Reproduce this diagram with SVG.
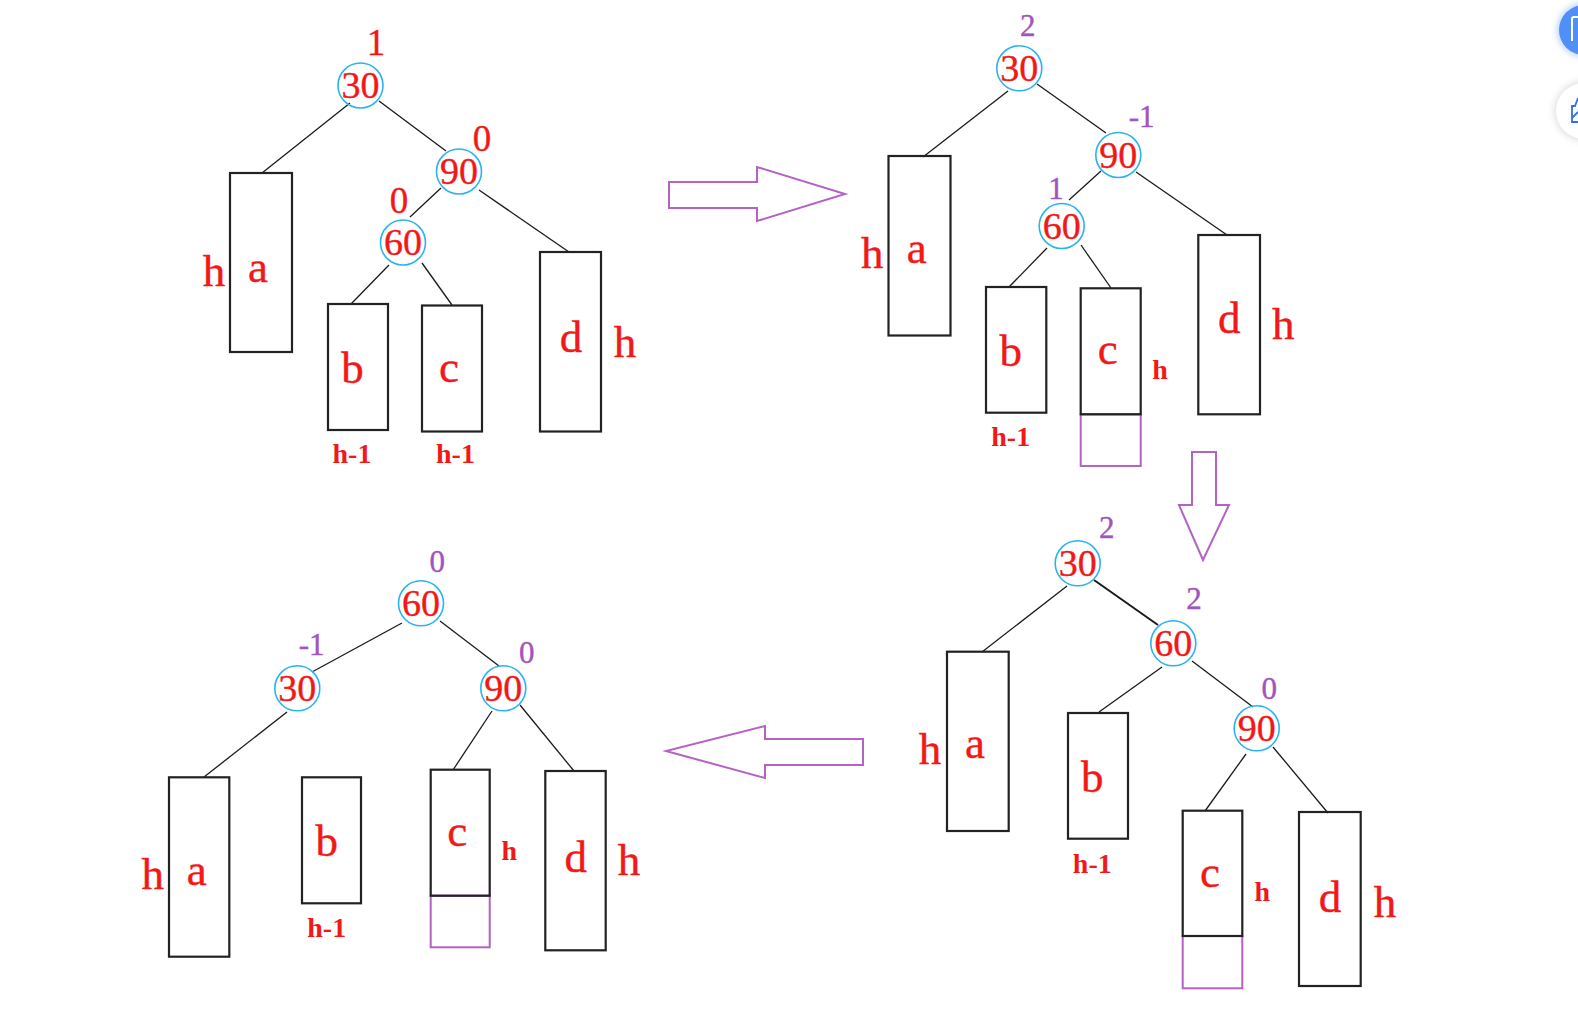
<svg xmlns="http://www.w3.org/2000/svg" width="1578" height="1025" viewBox="0 0 1578 1025">
<defs>
<style>
.bg{fill:#ffffff}
.nc{fill:none;stroke:#2ab4ee;stroke-width:1.6}
.box{fill:none;stroke:#222;stroke-width:2.2}
.pbox{fill:none;stroke:#b462c4;stroke-width:2}
.ln{stroke:#1a1a1a;stroke-width:1.3;fill:none}
.arr{fill:#ffffff;stroke:#b462c4;stroke-width:2;stroke-linejoin:miter}
.t{font-family:"Liberation Serif","Times New Roman",serif;fill:#f21818;text-anchor:middle;stroke:#f21818;stroke-width:0.4}
.num{font-size:38px}
.bf{font-size:37px}
.pb{font-size:31px;fill:#a154bd;stroke:#a154bd}
.lt{font-size:45px}
.sm{font-size:28px;font-weight:bold;stroke-width:0}
</style>
<filter id="glow" x="-50%" y="-50%" width="200%" height="200%">
<feGaussianBlur stdDeviation="3"/>
</filter>
</defs>
<rect class="bg" x="0" y="0" width="1578" height="1025"/>

<!-- connectors -->
<g id="connectors">
<!-- tree 1 -->
<line class="ln" x1="350" y1="103" x2="262" y2="173"/>
<line class="ln" x1="379" y1="101" x2="446" y2="151"/>
<line class="ln" x1="441" y1="188" x2="410" y2="217"/>
<line class="ln" x1="479" y1="190" x2="569" y2="252"/>
<line class="ln" x1="389" y1="265" x2="351" y2="304"/>
<line class="ln" x1="422" y1="263" x2="452" y2="305"/>
<!-- tree 2 -->
<line class="ln" x1="1008" y1="91" x2="923" y2="157"/>
<line class="ln" x1="1037" y1="84" x2="1106" y2="133"/>
<line class="ln" x1="1101" y1="171" x2="1069" y2="200"/>
<line class="ln" x1="1136" y1="172" x2="1227" y2="235"/>
<line class="ln" x1="1047" y1="248" x2="1009" y2="287"/>
<line class="ln" x1="1081" y1="245" x2="1111" y2="288"/>
<!-- tree 3 -->
<line class="ln" x1="1067" y1="586" x2="982" y2="652"/>
<line class="ln" x1="1094" y1="580" x2="1158" y2="625" style="stroke-width:2"/>
<line class="ln" x1="1162" y1="667" x2="1099" y2="712"/>
<line class="ln" x1="1192" y1="661" x2="1253" y2="707"/>
<line class="ln" x1="1246" y1="754" x2="1205" y2="811"/>
<line class="ln" x1="1273" y1="747" x2="1328" y2="813"/>
<!-- tree 4 -->
<line class="ln" x1="402" y1="623" x2="312" y2="672"/>
<line class="ln" x1="440" y1="621" x2="499" y2="666"/>
<line class="ln" x1="287" y1="712" x2="204" y2="777"/>
<line class="ln" x1="492" y1="711" x2="453" y2="770"/>
<line class="ln" x1="520" y1="705" x2="574" y2="771"/>
</g>

<!-- transformation arrows -->
<g id="arrows">
<polygon id="arrow-right" class="arr" points="669,182 757,182 757,167 845,194 757,221 757,208 669,208"/>
<polygon id="arrow-down" class="arr" points="1192,452 1216,452 1216,505 1229,505 1203,560 1179,505 1192,505"/>
<polygon id="arrow-left" class="arr" points="863,739 765,739 765,726 666,751 765,778 765,765 863,765"/>
</g>

<!-- ===== Tree 1 (top-left) ===== -->
<g id="t1-n30">
<circle class="nc" cx="360.5" cy="85.5" r="22.5"/>
<text class="t num" x="360.5" y="98">30</text>
<text class="t bf" x="376" y="55">1</text>
</g>
<g id="t1-n90">
<circle class="nc" cx="459" cy="171.5" r="22.5"/>
<text class="t num" x="459" y="184">90</text>
<text class="t bf" x="482" y="151">0</text>
</g>
<g id="t1-n60">
<circle class="nc" cx="403" cy="242.5" r="22.5"/>
<text class="t num" x="403" y="255">60</text>
<text class="t bf" x="399" y="213">0</text>
</g>
<g id="t1-a">
<rect class="box" x="230" y="173" width="62" height="179"/>
<text class="t lt" x="214" y="286">h</text>
<text class="t lt" x="258" y="282">a</text>
</g>
<g id="t1-b">
<rect class="box" x="328" y="304" width="60" height="126"/>
<text class="t lt" x="352.5" y="383">b</text>
<text class="t sm" x="352" y="463">h-1</text>
</g>
<g id="t1-c">
<rect class="box" x="422" y="305.5" width="60" height="126"/>
<text class="t lt" x="449" y="382">c</text>
<text class="t sm" x="455.5" y="463">h-1</text>
</g>
<g id="t1-d">
<rect class="box" x="540" y="252" width="61" height="179.5"/>
<text class="t lt" x="571" y="352">d</text>
<text class="t lt" x="625" y="357">h</text>
</g>

<!-- ===== Tree 2 (top-right) ===== -->
<g id="t2-n30">
<circle class="nc" cx="1019.3" cy="68.3" r="22.5"/>
<text class="t num" x="1019.3" y="80.8">30</text>
<text class="t pb" x="1027.7" y="36">2</text>
</g>
<g id="t2-n90">
<circle class="nc" cx="1118.3" cy="155" r="22.5"/>
<text class="t num" x="1118.3" y="167.5">90</text>
<text class="t pb" x="1141.7" y="127">-1</text>
</g>
<g id="t2-n60">
<circle class="nc" cx="1061.7" cy="226" r="22.5"/>
<text class="t num" x="1061.7" y="238.5">60</text>
<text class="t pb" x="1056" y="199">1</text>
</g>
<g id="t2-a">
<rect class="box" x="888.5" y="156" width="62" height="179.5"/>
<text class="t lt" x="872.3" y="268">h</text>
<text class="t lt" x="916.7" y="263.3">a</text>
</g>
<g id="t2-b">
<rect class="box" x="986" y="287" width="60.3" height="125.7"/>
<text class="t lt" x="1010.7" y="366">b</text>
<text class="t sm" x="1010.7" y="446">h-1</text>
</g>
<g id="t2-c">
<rect class="pbox" x="1080.7" y="414.3" width="60" height="51.7"/>
<rect class="box" x="1080.7" y="288.3" width="60" height="126"/>
<text class="t lt" x="1107.7" y="364.3">c</text>
<text class="t sm" x="1160" y="379">h</text>
</g>
<g id="t2-d">
<rect class="box" x="1198.3" y="235" width="61.7" height="179.3"/>
<text class="t lt" x="1229.3" y="333.3">d</text>
<text class="t lt" x="1283.3" y="339">h</text>
</g>

<!-- ===== Tree 3 (bottom-right) ===== -->
<g id="t3-n30">
<circle class="nc" cx="1077.7" cy="563.3" r="22.5"/>
<text class="t num" x="1077.7" y="575.8">30</text>
<text class="t pb" x="1106.7" y="538.3">2</text>
</g>
<g id="t3-n60">
<circle class="nc" cx="1173.3" cy="643.3" r="22.5"/>
<text class="t num" x="1173.3" y="655.8">60</text>
<text class="t pb" x="1194" y="609.3">2</text>
</g>
<g id="t3-n90">
<circle class="nc" cx="1256.7" cy="728.3" r="22.5"/>
<text class="t num" x="1256.7" y="740.8">90</text>
<text class="t pb" x="1269.3" y="699.3">0</text>
</g>
<g id="t3-a">
<rect class="box" x="947" y="651.7" width="61.7" height="179.3"/>
<text class="t lt" x="930" y="764">h</text>
<text class="t lt" x="975" y="758.3">a</text>
</g>
<g id="t3-b">
<rect class="box" x="1068" y="713" width="60" height="125.7"/>
<text class="t lt" x="1092.3" y="791.7">b</text>
<text class="t sm" x="1092.3" y="872.7">h-1</text>
</g>
<g id="t3-c">
<rect class="pbox" x="1182.7" y="936" width="59.6" height="52.3"/>
<rect class="box" x="1182.7" y="810.7" width="59.6" height="125.3"/>
<text class="t lt" x="1210" y="886.7">c</text>
<text class="t sm" x="1262.3" y="900.7">h</text>
</g>
<g id="t3-d">
<rect class="box" x="1299" y="812" width="61.7" height="174"/>
<text class="t lt" x="1330" y="911.7">d</text>
<text class="t lt" x="1385" y="916.7">h</text>
</g>

<!-- ===== Tree 4 (bottom-left) ===== -->
<g id="t4-n60">
<circle class="nc" cx="421" cy="603.3" r="22.5"/>
<text class="t num" x="421" y="615.8">60</text>
<text class="t pb" x="437.3" y="571.7">0</text>
</g>
<g id="t4-n30">
<circle class="nc" cx="297.3" cy="688.3" r="22.5"/>
<text class="t num" x="297.3" y="700.8">30</text>
<text class="t pb" x="311.7" y="655">-1</text>
</g>
<g id="t4-n90">
<circle class="nc" cx="503.3" cy="688.3" r="22.5"/>
<text class="t num" x="503.3" y="700.8">90</text>
<text class="t pb" x="526.7" y="662.7">0</text>
</g>
<g id="t4-a">
<rect class="box" x="169" y="777.3" width="60.3" height="179.4"/>
<text class="t lt" x="152.7" y="889.3">h</text>
<text class="t lt" x="196.7" y="885">a</text>
</g>
<g id="t4-b">
<rect class="box" x="302" y="777.3" width="59" height="126"/>
<text class="t lt" x="326.7" y="856">b</text>
<text class="t sm" x="326.7" y="936.7">h-1</text>
</g>
<g id="t4-c">
<rect class="pbox" x="430.7" y="895.7" width="59" height="51.6"/>
<rect class="box" x="430.7" y="769.7" width="59" height="126"/>
<text class="t lt" x="457.3" y="846">c</text>
<text class="t sm" x="509.3" y="860">h</text>
</g>
<g id="t4-d">
<rect class="box" x="545.3" y="771" width="60.4" height="179.3"/>
<text class="t lt" x="575.7" y="871.7">d</text>
<text class="t lt" x="629" y="875">h</text>
</g>

<!-- UI overlay buttons at right edge -->
<g id="ui-buttons">
<circle cx="1584" cy="30" r="27" fill="#7aa8f8" opacity="0.5" filter="url(#glow)"/>
<circle cx="1584" cy="30" r="25" fill="#4f8ff7"/>
<path d="M1578,17 L1574,17 Q1572,17 1572,19 L1572,41" fill="none" stroke="#ffffff" stroke-width="2"/>
<circle cx="1584" cy="111" r="30" fill="#cccccc" opacity="0.6" filter="url(#glow)"/>
<circle cx="1584" cy="111" r="28" fill="#ffffff"/>
<path d="M1578,98 L1575,106 L1572,106 L1572,122 L1578,122 M1572,118 L1578,112" fill="none" stroke="#2f6fe8" stroke-width="1.8"/>
</g>
</svg>
